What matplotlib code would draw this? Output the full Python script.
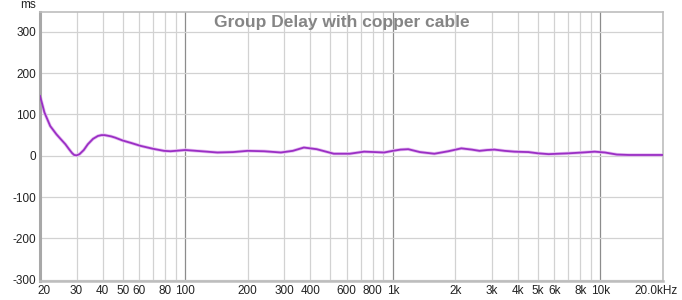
import numpy as np
import matplotlib.pyplot as plt
import matplotlib.transforms as mtransforms

plt.rcParams['font.family'] = ['Liberation Sans', 'DejaVu Sans']

# group delay (Hz, ms)
freq = [20, 20.5, 21, 22.4, 24, 25, 26.5, 27.5, 28.5, 29.2, 30, 31, 32.5, 34,
        36, 38, 39.5, 41, 44, 46, 50, 55, 61, 70, 79, 85,
        90, 100, 120, 143, 170, 200, 240, 289, 330, 373, 430, 520, 620, 727,
        820, 908, 1000, 1090, 1186, 1350, 1585, 1850, 2138, 2400, 2614, 2850,
        3085, 3450, 3855, 4500, 5000, 5625, 7030, 8200, 9380, 10500, 12000,
        13700, 16500, 20000]
delay = [145, 125, 105, 72, 52, 42, 28, 17, 7, 2, 1, 4, 14, 28, 41, 48, 50,
         50, 47, 44, 37, 31, 24, 17, 12, 11,
         12, 14, 11, 8, 9, 12, 11, 8, 12, 20, 16, 5, 5, 10,
         9, 8, 12, 15, 16, 9, 5, 11, 18, 15, 12, 14,
         15, 12, 10, 9, 6, 4, 6, 8, 10, 8, 3,
         2, 2, 2]

xticks = [20, 30, 40, 50, 60, 80, 100, 200, 300, 400, 600, 800, 1000, 2000,
          3000, 4000, 5000, 6000, 8000, 10000, 20000]
xlabels = ['20', '30', '40', '50', '60', '80', '100', '200', '300', '400',
           '600', '800', '1k', '2k', '3k', '4k', '5k', '6k', '8k', '10k',
           '20.0kHz']
yticks = [300, 200, 100, 0, -100, -200, -300]
ylabels = ['300', '200', '100', '0', '-100', '-200', '-300']

fig = plt.figure(figsize=(6.82, 3.0), dpi=100)
ax = fig.add_axes([40 / 682, 19 / 300, 623 / 682, 269 / 300])

ax.set_xscale('log')
ax.set_xlim(20, 20000)
ax.set_ylim(-303, 348)

# grid lines
minor = [m * d for d in (10, 100, 1000, 10000) for m in range(2, 10)
         if 20 <= m * d <= 20000]
for f in minor:
    ax.axvline(f, color='#d2d2d2', lw=0.9, zorder=1)
for f in (100, 1000, 10000):
    ax.axvline(f, color='#8c8c8c', lw=0.9, zorder=1)
for y in yticks:
    ax.axhline(y, color='#d2d2d2', lw=0.9, zorder=1)

ax.plot(freq, delay, color='#e6bdf2', lw=2.4, zorder=2, solid_capstyle='round',
        solid_joinstyle='round')
ax.plot(freq, delay, color='#9a2fc4', lw=1.3, zorder=3, solid_joinstyle='round')

ax.set_xticks(xticks)
ax.set_xticklabels(xlabels)
ax.xaxis.set_minor_locator(plt.NullLocator())
ax.set_yticks(yticks)
ax.set_yticklabels(ylabels)
ax.tick_params(length=0, labelsize=8.5, colors='#222222', pad=3)

# nudge the end labels so they sit inside the figure like the original
lbls = ax.get_xticklabels()
lbls[0].set_transform(lbls[0].get_transform() +
                      mtransforms.ScaledTranslation(0.04, 0, fig.dpi_scale_trans))
lbls[-1].set_transform(lbls[-1].get_transform() +
                       mtransforms.ScaledTranslation(-0.07, 0, fig.dpi_scale_trans))

for side in ('top', 'right', 'bottom'):
    ax.spines[side].set_color('#bdbdbd')
    ax.spines[side].set_linewidth(1.2)
ax.spines['left'].set_color('#a8a8a8')
ax.spines['left'].set_linewidth(2.2)
ax.spines['bottom'].set_linewidth(1.8)

ax.text(0.485, 0.96, 'Group Delay with copper cable', transform=ax.transAxes,
        ha='center', va='center', fontsize=12.5, fontweight='bold',
        color='#858585')
fig.text(28 / 682, 1 - 5 / 300, 'ms', ha='center', va='center', fontsize=8.5,
         color='#222222')

fig.savefig('out.png', dpi=100, facecolor='white')
